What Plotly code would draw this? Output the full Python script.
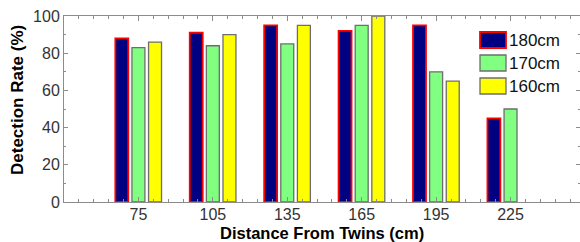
import plotly.graph_objects as go

# ---- data ----
distances = [75, 105, 135, 165, 195, 225]
series_names = ["180cm", "170cm", "160cm"]
rate_180 = [88, 91, 95, 92, 95, 45]
rate_170 = [83, 84, 85, 95, 70, 50]
rate_160 = [86, 90, 95, 100, 65, None]
y_ticks = [0, 20, 40, 60, 80, 100]

fill_colors = ["#000080", "#80ff80", "#ffff00"]
line_colors = ["#ff0000", "#6e6e6e", "#6e6e6e"]
line_widths = [1.8, 1.3, 1.3]

FONT = "Liberation Sans, Arial, sans-serif"
W, H = 580, 242
ML, MR, MT, MB = 64, 0, 16, 40
PW, PH = W - ML - MR, H - MT - MB

fig = go.Figure()
for name, vals, fc, lc, lw in zip(series_names, [rate_180, rate_170, rate_160],
                                  fill_colors, line_colors, line_widths):
    fig.add_trace(go.Bar(x=distances, y=vals, name=name,
                         marker=dict(color=fc, line=dict(color=lc, width=lw)),
                         showlegend=False, hoverinfo="skip"))

def px_x(px):
    return (px - ML) / PW

def px_y(py):
    return (H - MB - py) / PH

# custom legend (boxes + labels)
shapes = []
annotations = []
centers = [40, 63, 86]
for name, fc, lc, lw, cy in zip(series_names, fill_colors, line_colors, line_widths, centers):
    shapes.append(dict(type="rect", xref="paper", yref="paper",
                       x0=px_x(480), x1=px_x(506), y0=px_y(cy + 8), y1=px_y(cy - 8),
                       fillcolor=fc, line=dict(color=lc, width=lw)))
    annotations.append(dict(text=name, xref="paper", yref="paper",
                            x=px_x(507), y=px_y(cy), xanchor="left", yanchor="middle",
                            showarrow=False, font=dict(family=FONT, size=17, color="#111")))

annotations.append(dict(text="<b>Distance From Twins (cm)</b>", xref="paper", yref="paper",
                        x=0.5, y=px_y(233), xanchor="center", yanchor="middle",
                        showarrow=False, borderpad=0,
                        font=dict(family=FONT, size=16.5, color="#000")))
annotations.append(dict(text="<b>Detection Rate (%)</b>", xref="paper", yref="paper",
                        x=px_x(17), y=px_y(100), xanchor="center", yanchor="middle",
                        textangle=-90, showarrow=False, borderpad=0,
                        font=dict(family=FONT, size=17, color="#000")))

axis_common = dict(showline=True, linecolor="#8c8c8c", linewidth=1, mirror="ticks",
                   ticks="inside", tickcolor="#8c8c8c", showgrid=False, zeroline=False,
                   tickfont=dict(family=FONT, size=16, color="#333"))

fig.update_layout(
    width=W, height=H,
    margin=dict(l=ML, r=MR, t=MT, b=MB),
    paper_bgcolor="white", plot_bgcolor="white",
    barmode="group", bargap=0.33, bargroupgap=0.22,
    shapes=shapes, annotations=annotations,
    xaxis=dict(range=[45, 253], tickmode="array", tickvals=distances,
               ticktext=[str(d) for d in distances], ticklen=5, ticklabelstandoff=-2,
               minor=dict(dtick=6, tick0=45, ticklen=3, ticks="inside", tickcolor="#8c8c8c"),
               **axis_common),
    yaxis=dict(range=[0, 100], tickmode="array", tickvals=y_ticks, ticklen=4,
               minor=dict(dtick=10, tick0=0, ticklen=2, ticks="inside", tickcolor="#8c8c8c"),
               **axis_common),
)

fig.write_html("out.html", config={"displayModeBar": False},
               post_script="document.body.style.margin='0';document.body.style.padding='0';"
                           "document.body.style.overflow='hidden';")
